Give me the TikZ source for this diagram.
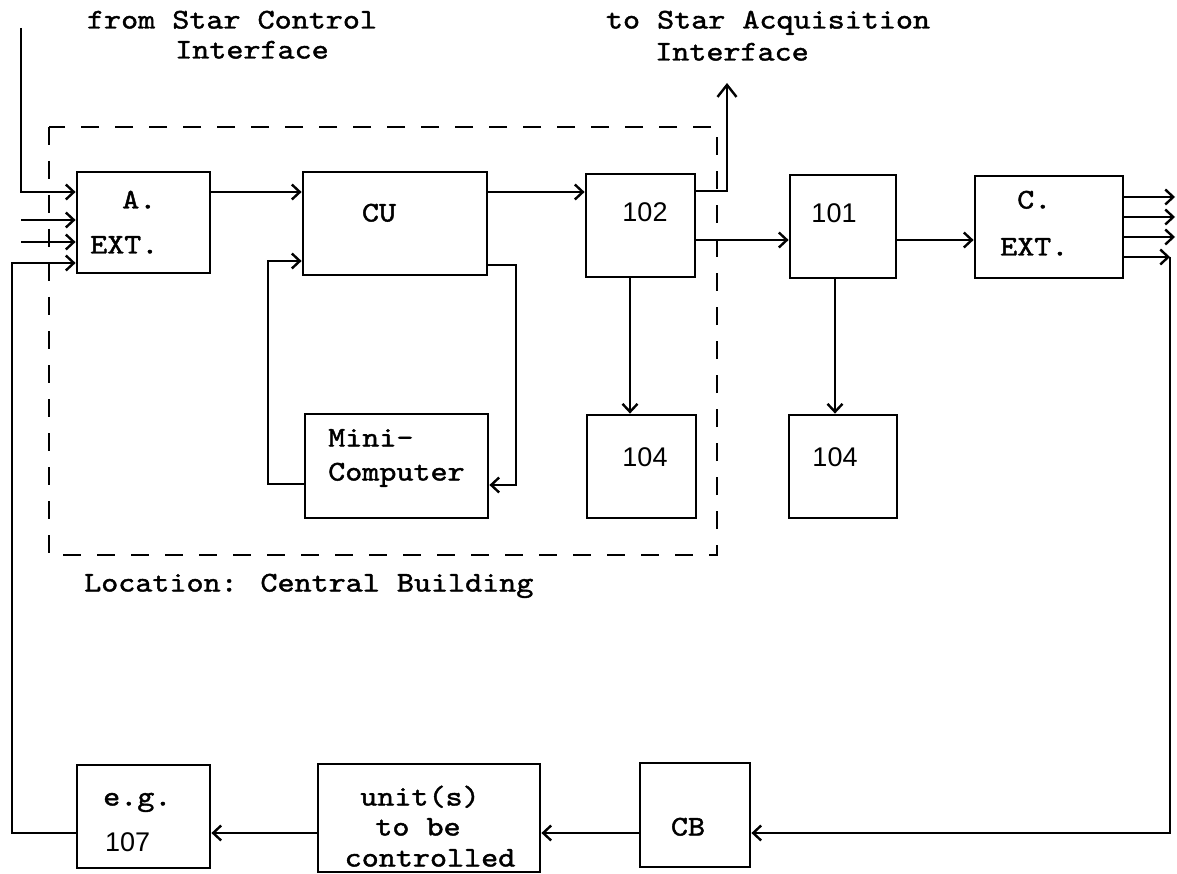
\documentclass[tikz,border=0pt]{standalone}
\usepackage{fontspec}
\usetikzlibrary{arrows.meta}
\newfontfamily\tw{lmmono10-regular.otf}[FakeStretch=1.14,FakeBold=1.5]
\newfontfamily\nums{Liberation Sans}
\begin{document}
\begin{tikzpicture}[x=1pt,y=-1pt,
  box/.style={draw, line width=2.8pt, inner sep=0pt},
  arr/.style={line width=2.4pt, -{Straight Barb[length=8pt,width=15pt]}},
  arrbig/.style={line width=2.4pt, -{Straight Barb[length=12pt,width=19pt]}},
  region/.style={line width=1.8pt, dash pattern=on 18pt off 16pt},
  lbl/.style={font=\tw\fontsize{28.5}{30}\selectfont, inner sep=0pt, text height=17pt, text depth=0pt},
  num/.style={font=\nums\fontsize{27}{29}\selectfont, inner sep=0pt, text height=19pt, text depth=0pt}]
\useasboundingbox (0,0) rectangle (1177,874);
\fill[white] (0,0) rectangle (1177,874);

% location region
\draw[region] (49,127) rectangle (717,555);

% boxes
\node[box, minimum width=133pt, minimum height=101pt] (A) at (143.5,222.5) {};
\node[box, minimum width=184pt, minimum height=103pt] (CU) at (395,223.5) {};
\node[box, minimum width=109pt, minimum height=103pt] (n102) at (640.5,225.5) {};
\node[box, minimum width=106pt, minimum height=103pt] (n101) at (843,226.5) {};
\node[box, minimum width=148pt, minimum height=102pt] (C) at (1049,227) {};
\node[box, minimum width=183pt, minimum height=104pt] (Mini) at (396.5,466) {};
\node[box, minimum width=109pt, minimum height=103pt] (n104a) at (641.5,466.5) {};
\node[box, minimum width=108pt, minimum height=103pt] (n104b) at (843,466.5) {};
\node[box, minimum width=133pt, minimum height=103pt] (n107) at (143.5,816.5) {};
\node[box, minimum width=222pt, minimum height=108pt] (unit) at (429,818) {};
\node[box, minimum width=110pt, minimum height=104pt] (CB) at (695,815) {};

% texts
\node[lbl] (t1) at (232,20) {from Star Control};
\node[lbl] (t2) at (252,50) {Interface};
\node[lbl] (t3) at (768,20) {to Star Acquisition};
\node[lbl] (t4) at (732,52) {Interface};
\node[lbl, anchor=west] (tA1) at (122,200) {A.};
\node[lbl, anchor=west] (tA2) at (90,245) {EXT.};
\node[lbl] (tCU) at (379,213) {CU};
\node[num] (t102) at (645,212) {102};
\node[num] (t101) at (834,213) {101};
\node[lbl, anchor=west] (tC1) at (1017,200) {C.};
\node[lbl, anchor=west] (tC2) at (1000,247) {EXT.};
\node[lbl, anchor=west] (tM1) at (328,438) {Mini-};
\node[lbl, anchor=west] (tM2) at (328,472) {Computer};
\node[num] (t104a) at (645,457) {104};
\node[num] (t104b) at (835,457) {104};
\node[lbl, anchor=west] (tLoc) at (84,583) {Location: Central Building};
\node[lbl, anchor=west] (tE1) at (103,797) {e.g.};
\node[num, anchor=west] (tE2) at (105,842) {107};
\node[lbl] (tU1) at (420,797) {unit(s)};
\node[lbl] (tU2) at (418,827) {to be};
\node[lbl] (tU3) at (430,858) {controlled};
\node[lbl] (tCB) at (688,827) {CB};

% input lines
\coordinate (in1) at (21,28);
\coordinate (in2) at (21,220);
\coordinate (in3) at (21,242);
\draw[arr] (in1) |- (A.west |- 0,192);
\draw[arr] (in2) -- (A.west |- in2);
\draw[arr] (in3) -- (A.west |- in3);

% main chain
\draw[arr] (A.east |- 0,192) -- (CU.west |- 0,192);
\draw[arr] (CU.east |- 0,192) -- (n102.west |- 0,192);
\draw[arr] (CU.east |- 0,265) -| (516,485) -- (Mini.east |- 0,485);
\draw[arr] (Mini.west |- 0,484) -| (268,261) -- (CU.west |- 0,261);
\coordinate (acq) at (727,83);
\draw[arrbig] (n102.east |- 0,191) -| (acq);
\draw[arr] (n102.east |- 0,240) -- (n101.west |- 0,240);
\draw[arr] (n102.south -| 630,0) -- (n104a.north -| 630,0);
\draw[arr] (n101.east |- 0,240) -- (C.west |- 0,240);
\draw[arr] (n101.south -| 835,0) -- (n104b.north -| 835,0);

% outputs of C. EXT.
\coordinate (o1) at (1175,197);
\coordinate (o2) at (1175,217);
\coordinate (o3) at (1175,237);
\coordinate (o4) at (1170,257);
\draw[arr] (C.east |- o1) -- (o1);
\draw[arr] (C.east |- o2) -- (o2);
\draw[arr] (C.east |- o3) -- (o3);
\draw[arr] (C.east |- o4) -- (o4);

% feedback loop
\draw[arr] (o4) |- (CB.east |- 0,833);
\draw[arr] (CB.west |- 0,833) -- (unit.east |- 0,833);
\draw[arr] (unit.west |- 0,833) -- (n107.east |- 0,833);
\draw[arr] (n107.west |- 0,833) -| (12,263) -- (A.west |- 0,263);
\end{tikzpicture}
\end{document}
